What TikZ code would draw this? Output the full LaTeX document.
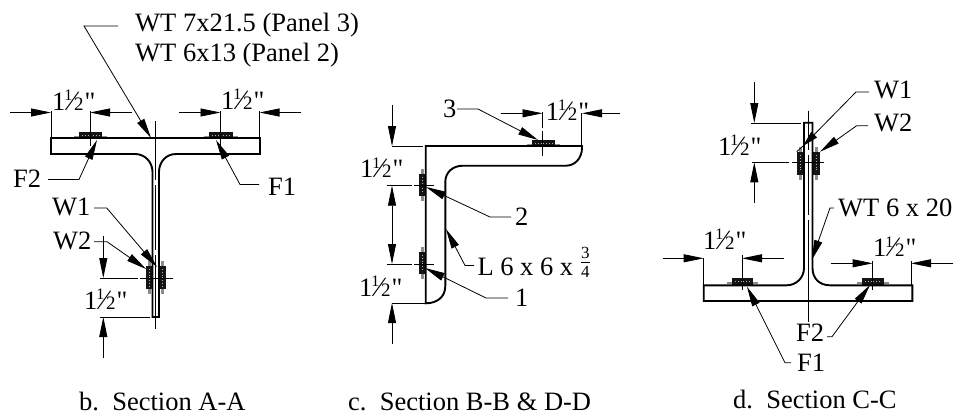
\documentclass[tikz,border=0pt]{standalone}
\usepackage{fontspec}
\setmainfont{Liberation Serif}
\newfontfamily\plainf{Liberation Serif}
\usetikzlibrary{arrows.meta}
\tikzset{
 part/.style={line width=1.9pt,line join=miter},
 thinl/.style={line width=0.8pt,black},
 dim/.style={line width=0.8pt,-{Triangle[length=20pt,width=8pt]}},
 lead/.style={line width=0.8pt,-{Triangle[length=20pt,width=8pt]}},
 lab/.style={font=\fontsize{26.5}{26.5}\selectfont,inner sep=0pt,anchor=base west},
 ctr/.style={line width=0.7pt},
 halo/.style={fill=black!45,draw=none},
 weld/.style={fill=black!92,draw=none},
}
\newcommand{\fr}{1\kern-1pt\raisebox{9.5pt}{\fontsize{16}{16}\selectfont 1}\kern-2.5pt{\fontsize{28}{28}\selectfont\char"2044}\kern-0.5pt{\fontsize{19}{19}\selectfont 2}\kern1pt{\plainf\symbol{34}}}
\newcommand{\tq}{\raisebox{6.5pt}{\ensuremath{\frac{\hbox{\fontsize{17}{17}\selectfont 3}}{\hbox{\fontsize{17}{17}\selectfont 4}}}}}
\newcommand{\weldH}[3]{% x1 x2 y-top
 \fill[halo] (#1-5,#3+4) rectangle (#2+5,#3+6);
 \fill[weld] (#1,#3) rectangle (#2,#3+7);
 \draw[white!70!black,line width=0.8pt,dotted] (#1+3,#3+3.5) -- (#2-3,#3+3.5);
}
\newcommand{\weldV}[3]{% y1 y2 x-left
 \fill[halo] (#3+2,#1-5) rectangle (#3+5,#2+5);
 \fill[weld] (#3,#1) rectangle (#3+7,#2);
 \draw[white!70!black,line width=0.8pt,dotted] (#3+3.5,#1+3) -- (#3+3.5,#2-3);
}
\begin{document}
\begin{tikzpicture}[x=1pt,y=-1pt]
\useasboundingbox (0,0) rectangle (956,418);
% ---------- Section A-A
\weldH{79}{102}{132}
\weldH{209}{233}{132}
\weldV{266}{289}{145.5}
\weldV{266}{289}{159}
\draw[part] (51,138) -- (260,138) -- (260,154) -- (176,154) .. controls (166,154) and (159,162) .. (159,172) -- (159,317) -- (152.5,317) -- (152.5,172) .. controls (152.5,162) and (145,154) .. (135,154) -- (51,154) -- cycle;
\draw[ctr] (155.5,121) -- (155.5,180);
\draw[ctr] (155.5,185) -- (155.5,250);
\draw[ctr] (155.5,255) -- (155.5,329);
\coordinate (a1) at (51,112.5); \coordinate (a2) at (90,112.5); \coordinate (a3) at (220.5,112.5); \coordinate (a4) at (259.5,112.5);
\draw[dim] (10,112.5) -- (a1);
\draw[dim] (132,112.5) -- (a2);
\draw[dim] (179,112.5) -- (a3);
\draw[dim] (301,112.5) -- (a4);
\draw[thinl] (51,111) -- (51,137) (90,111) -- (90,146) (220.5,111) -- (220.5,146) (259.5,111) -- (259.5,137);
\node[lab] (ta1) at (52,110) {\fr};
\node[lab] (ta2) at (221,109) {\fr};
\node[lab] (tw) at (135,31.5) {WT 7x21.5 (Panel 3)};
\node[lab] (tw2) at (135,61.5) {WT 6x13 (Panel 2)};
\coordinate (wt0) at (118,26); \coordinate (wt1) at (84,26); \coordinate (wt2) at (151,138);
\draw[lead] (wt0) -- (wt1) -- (wt2);
\node[lab] (f2) at (13,187.7) {F2};
\node[lab] (f1) at (268,195) {F1};
\coordinate (f2a) at (48,179.5); \coordinate (f2b) at (79,179.5); \coordinate (f2c) at (97,140);
\draw[lead] (f2a) -- (f2b) -- (f2c);
\coordinate (f1a) at (259,184.5); \coordinate (f1b) at (240,184.5); \coordinate (f1c) at (216,140);
\draw[lead] (f1a) -- (f1b) -- (f1c);
\node[lab] (w1a) at (52,215) {W1};
\node[lab] (w2a) at (53,249) {W2};
\coordinate (w1p) at (94,208); \coordinate (w1q) at (106.7,208); \coordinate (w1r) at (157,267);
\draw[lead] (w1p) -- (w1q) -- (w1r);
\coordinate (w2p) at (94,241.7); \coordinate (w2q) at (107,241.7); \coordinate (w2r) at (146,269);
\draw[lead] (w2p) -- (w2q) -- (w2r);
\draw[dim] (103.3,236) -- (103.3,278);
\draw[dim] (103.3,358) -- (103.3,317);
\draw[thinl] (100,278) -- (138,278) (140,278) -- (173,278) (100,317) -- (150,317);
\node[lab] (ta3) at (84,309.3) {\fr};
\node[lab] (cap1) at (79,410.7) {b.\ \ Section A-A};
% ---------- Section B-B
\weldV{174}{196}{419.3}
\weldV{252}{274}{419.3}
\weldH{532}{555}{140}
\draw[part] (425.7,146) -- (582,146) -- (582,148) .. controls (582,158) and (575,165.7) .. (566,165.7) -- (463,165.7) .. controls (453,165.7) and (445.3,172) .. (445.3,182) -- (445.3,286) .. controls (445.3,297) and (437,303.3) .. (425.7,303.3) -- cycle;
\draw[ctr] (542.5,112) -- (542.5,128) (542.5,131) -- (542.5,155.7);
\draw[dim] (392,105) -- (392,146);
\draw[thinl] (392,146) -- (423,146) (387,185.7) -- (412,185.7) (414,185.7) -- (434,185.7) (387,264) -- (412,264) (414,264) -- (434,264) (392,303) -- (425,303);
\draw[line width=0.8pt,{Triangle[length=20pt,width=8pt]}-{Triangle[length=20pt,width=8pt]}] (392,185.7) -- (392,264);
\draw[dim] (392,344) -- (392,303);
\node[lab] (tb1) at (360,177.7) {\fr};
\node[lab] (tb2) at (359,296) {\fr};
\node[lab] (n2) at (515,225.7) {2};
\node[lab] (n1) at (515,306.7) {1};
\node[lab] (ll) at (477.3,275) {L 6 x 6 x \tq};
\coordinate (b1) at (511,217); \coordinate (b2) at (490,217); \coordinate (b3) at (426,187);
\draw[lead] (b1) -- (b2) -- (b3);
\coordinate (c1) at (508,298); \coordinate (c2) at (486,298); \coordinate (c3) at (425,268);
\draw[lead] (c1) -- (c2) -- (c3);
\coordinate (d1) at (474,265.5); \coordinate (d2) at (465,265.5); \coordinate (d3) at (446,229);
\draw[lead] (d1) -- (d2) -- (d3);
\node[lab] (n3) at (443,117) {3};
\coordinate (e1) at (457,109); \coordinate (e2) at (478,109); \coordinate (e3) at (538,140);
\draw[lead] (e1) -- (e2) -- (e3);
\node[lab] (tb3) at (545.7,120) {\fr};
\draw[dim] (620,113.3) -- (582,113.3);
\draw[dim] (500.7,113.3) -- (542.5,113.3);
\draw[thinl] (581.7,113) -- (581.7,146);
\node[lab] (cap2) at (348,410.7) {c.\ \ Section B-B \& D-D};
% ---------- Section C-C
\weldV{152.3}{175}{797}
\weldV{152.3}{175}{813}
\weldH{732}{753}{278.3}
\weldH{862}{884}{278.3}
\draw[part] (804,122.7) -- (812.5,122.7) -- (812.5,268) .. controls (812.5,278) and (819,285.3) .. (830,285.3) -- (912.3,285.3) -- (912.3,301) -- (703.7,301) -- (703.7,285.3) -- (786.7,285.3) .. controls (796,285.3) and (804,278) .. (804,268) -- cycle;
\draw[ctr] (808,110.7) -- (808,150) (808,155) -- (808,215) (808,220) -- (808,322);
\draw[dim] (754.3,82) -- (754.3,123);
\draw[dim] (754.3,203) -- (754.3,162.3);
\draw[thinl] (751,123) -- (801,123) (752,162.3) -- (789,162.3) (791.7,162.3) -- (824,162.3);
\node[lab] (tc1) at (718,155) {\fr};
\node[lab] (cw1) at (874,98.3) {W1};
\node[lab] (cw2) at (874,131.7) {W2};
\coordinate (g1) at (869,92); \coordinate (g2) at (856,92); \coordinate (g3) at (803,146); \coordinate (g4) at (796.7,151.7);
\draw[lead,-{Triangle[length=16pt,width=8pt]}] (g1) -- (g2) -- (g3);
\draw[thinl] (g3) -- (g4);
\coordinate (h1) at (868,125.7); \coordinate (h2) at (856.7,125.7); \coordinate (h3) at (820,151.7);
\draw[lead] (h1) -- (h2) -- (h3);
\node[lab] (cwt) at (838,216.7) {WT 6 x 20};
\coordinate (i1) at (834,208); \coordinate (i2) at (830,208); \coordinate (i3) at (811.7,260);
\draw[lead] (i1) -- (i2) -- (i3);
\draw[dim] (662.7,258.3) -- (703.7,258.3);
\draw[dim] (784,258.3) -- (742,258.3);
\draw[dim] (831,263.3) -- (872.7,263.3);
\draw[dim] (953,263.3) -- (911,263.3);
\draw[thinl] (703.7,258) -- (703.7,285) (742,255) -- (742,290) (872.7,261) -- (872.7,290) (911,261) -- (911,285);
\node[lab] (tc2) at (703,249.3) {\fr};
\node[lab] (tc3) at (873,256.7) {\fr};
\node[lab] (cf2) at (796,341) {F2};
\node[lab] (cf1) at (797,371.7) {F1};
\coordinate (j1) at (827,336.7); \coordinate (j2) at (832,336.7); \coordinate (j3) at (870,285);
\draw[lead] (j1) -- (j2) -- (j3);
\coordinate (k1) at (791,362.7); \coordinate (k2) at (785,362.7); \coordinate (k3) at (747,286.7);
\draw[lead] (k1) -- (k2) -- (k3);
\node[lab] (cap3) at (733,408.3) {d.\ \ Section C-C};
\end{tikzpicture}
\end{document}
